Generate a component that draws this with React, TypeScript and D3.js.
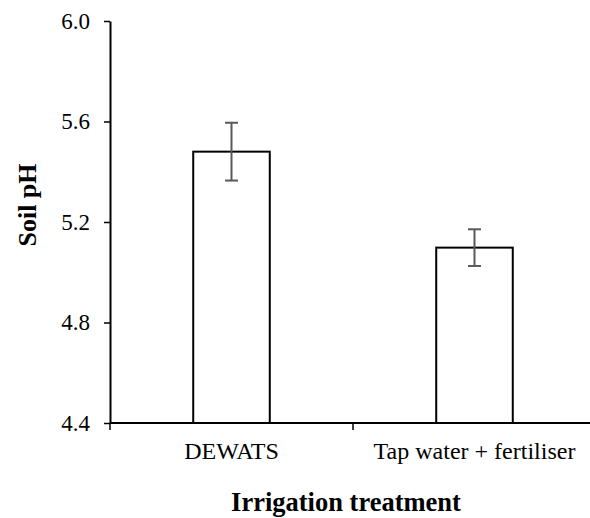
import React, { useEffect, useRef } from 'react';
import * as d3 from 'd3';

const categories = ['DEWATS', 'Tap water + fertiliser'];
const means = [5.48, 5.098];
const errors = [0.115, 0.073];
const yTicks = [4.4, 4.8, 5.2, 5.6, 6.0];

export default function App() {
  const svgRef = useRef<SVGSVGElement>(null);

  useEffect(() => {
    if (!svgRef.current) return;
    const svg = d3.select(svgRef.current);
    svg.selectAll('*').remove();

    const left = 110;
    const right = 596;
    const top = 21;
    const bottom = 423;
    const font = '"Liberation Serif", "Times New Roman", serif';

    const x = d3.scaleBand<string>().domain(categories).range([left, right]).padding(0);
    const y = d3.scaleLinear().domain([4.4, 6.0]).range([bottom, top]);
    const barW = x.bandwidth() * 0.315;

    // bars
    svg.append('g')
      .selectAll('rect')
      .data(categories)
      .join('rect')
      .attr('x', d => x(d)! + x.bandwidth() / 2 - barW / 2)
      .attr('y', (_, i) => y(means[i]))
      .attr('width', barW)
      .attr('height', (_, i) => bottom - y(means[i]))
      .attr('fill', '#fff')
      .attr('stroke', '#000')
      .attr('stroke-width', 2);

    // error bars
    const eb = svg.append('g').attr('stroke', '#595959').attr('stroke-width', 2);
    categories.forEach((c, i) => {
      const cx = x(c)! + x.bandwidth() / 2;
      const hi = y(means[i] + errors[i]);
      const lo = y(means[i] - errors[i]);
      eb.append('line').attr('x1', cx).attr('x2', cx).attr('y1', hi).attr('y2', lo);
      eb.append('line').attr('x1', cx - 6.5).attr('x2', cx + 6.5).attr('y1', hi).attr('y2', hi);
      eb.append('line').attr('x1', cx - 6.5).attr('x2', cx + 6.5).attr('y1', lo).attr('y2', lo);
    });

    // y axis
    const yAxis = svg.append('g')
      .attr('transform', `translate(${left},0)`)
      .call(d3.axisLeft(y).tickValues(yTicks).tickFormat(d3.format('.1f')).tickSize(6).tickSizeOuter(0).tickPadding(14));
    yAxis.select('.domain').attr('stroke', '#000').attr('stroke-width', 2);
    yAxis.selectAll('.tick line').attr('stroke', '#000').attr('stroke-width', 1.5);
    yAxis.selectAll('.tick text')
      .attr('font-family', font)
      .attr('font-size', 23)
      .attr('fill', '#000');

    // x axis
    const xAxis = svg.append('g');
    xAxis.append('line')
      .attr('x1', left).attr('x2', right)
      .attr('y1', bottom).attr('y2', bottom)
      .attr('stroke', '#000').attr('stroke-width', 2);
    categories.forEach(c => {
      xAxis.append('line')
        .attr('x1', x(c)!).attr('x2', x(c)!)
        .attr('y1', bottom).attr('y2', bottom + 7)
        .attr('stroke', '#000').attr('stroke-width', 1.5);
    });
    xAxis.selectAll('text.cat')
      .data(categories)
      .join('text')
      .attr('class', 'cat')
      .attr('x', d => x(d)! + x.bandwidth() / 2)
      .attr('y', 459)
      .attr('text-anchor', 'middle')
      .attr('font-family', font)
      .attr('font-size', 24)
      .text(d => d);

    // axis titles
    svg.append('text')
      .attr('x', 346)
      .attr('y', 511)
      .attr('text-anchor', 'middle')
      .attr('font-family', font)
      .attr('font-weight', 'bold')
      .attr('font-size', 26.5)
      .text('Irrigation treatment');

    svg.append('text')
      .attr('transform', 'translate(36,205) rotate(-90)')
      .attr('text-anchor', 'middle')
      .attr('font-family', font)
      .attr('font-weight', 'bold')
      .attr('font-size', 26)
      .text('Soil pH');
  }, []);

  return (
    <svg
      ref={svgRef}
      width={590}
      height={518}
      style={{ position: 'absolute', left: 0, top: 0, background: '#fff' }}
    />
  );
}
